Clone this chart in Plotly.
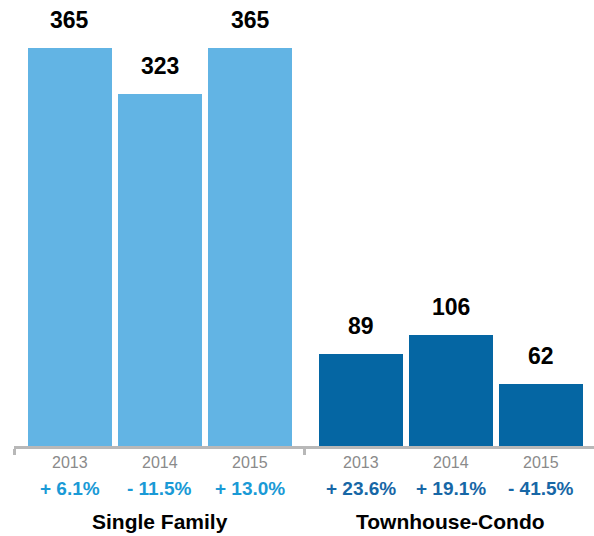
import plotly.graph_objects as go

groups = ["Single Family", "Townhouse-Condo"]
years = ["2013", "2014", "2015"]
single_family = [365, 323, 365]
townhouse_condo = [89, 106, 62]
sf_change = ["+ 6.1%", "- 11.5%", "+ 13.0%"]
tc_change = ["+ 23.6%", "+ 19.1%", "- 41.5%"]

SF_COLOR = "#62b4e4"
TC_COLOR = "#0566a3"
SF_PCT = "#1a9ad6"
TC_PCT = "#1767a6"
FONT = "Liberation Sans, Arial, Helvetica, sans-serif"

group_offset = [0.0, 3.233]
series = [single_family, townhouse_condo]
colors = [SF_COLOR, TC_COLOR]
pct_lists = [sf_change, tc_change]
pct_colors = [SF_PCT, TC_PCT]

fig = go.Figure()
annotations = []
for g in range(2):
    xs = [group_offset[g] + i for i in range(3)]
    fig.add_trace(go.Bar(
        x=xs, y=series[g], width=0.933,
        marker=dict(color=colors[g], line=dict(width=0)),
        hoverinfo="skip", showlegend=False,
    ))
    for i, x in enumerate(xs):
        annotations.append(dict(
            x=x, y=series[g][i], xref="x", yref="y", text=f"<b>{series[g][i]}</b>",
            showarrow=False, yanchor="middle", yshift=28,
            font=dict(family=FONT, size=23, color="#000000")))
        annotations.append(dict(
            x=x, y=0, xref="x", yref="paper", text=years[i],
            showarrow=False, yanchor="middle", yshift=-16,
            font=dict(family=FONT, size=16, color="#8a8a8a")))
        annotations.append(dict(
            x=x, y=0, xref="x", yref="paper", text=f"<b>{pct_lists[g][i]}</b>",
            showarrow=False, yanchor="middle", yshift=-42,
            font=dict(family=FONT, size=19, color=pct_colors[g])))
    annotations.append(dict(
        x=xs[1], y=0, xref="x", yref="paper", text=f"<b>{groups[g]}</b>",
        showarrow=False, yanchor="middle", yshift=-75,
        font=dict(family=FONT, size=21, color="#000000")))

fig.update_layout(
    width=594, height=536,
    margin=dict(l=14, r=0, t=0, b=90),
    paper_bgcolor="white", plot_bgcolor="white",
    bargap=0,
    annotations=annotations,
    xaxis=dict(range=[-0.622, 5.822], showgrid=False, zeroline=False,
               showline=True, linecolor="#b8b8b8", linewidth=3,
               ticks="outside", tickvals=[-0.615, 2.611], ticklen=6,
               tickwidth=3, tickcolor="#b8b8b8", showticklabels=False),
    yaxis=dict(range=[6, 408], visible=False, showgrid=False, zeroline=False),
)

fig.write_html("out.html")
